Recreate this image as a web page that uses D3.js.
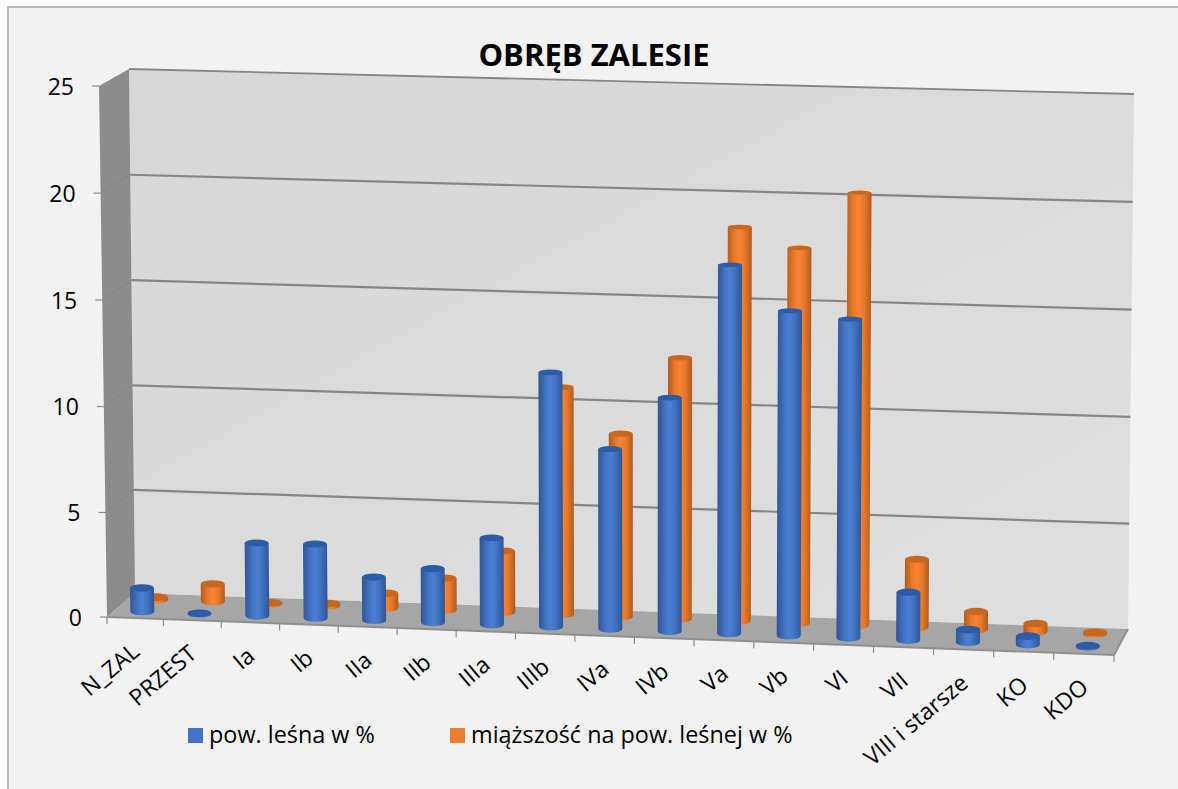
<!DOCTYPE html>
<html><head><meta charset="utf-8">
<script src="https://cdn.jsdelivr.net/npm/d3@7/dist/d3.min.js"></script>
<style>html,body{margin:0;padding:0;background:#fff}svg{display:block}text{font-family:"Open Sans",sans-serif;fill:#000}</style>
</head><body><div id="c"></div>
<script>
const categories=["N_ZAL","PRZEST","Ia","Ib","IIa","IIb","IIIa","IIIb","IVa","IVb","Va","Vb","VI","VII","VIII i starsze","KO","KDO"];
const powLesna=[1.15,0.02,3.5,3.55,2.08,2.58,4.14,12.0,8.5,11.0,17.25,15.2,14.9,2.28,0.62,0.41,0.06];
const miazszosc=[0.12,0.87,0.05,0.12,0.72,1.55,2.95,10.8,8.7,12.35,18.55,17.65,20.3,3.25,0.87,0.4,0.08];
const seriesNames=["pow. leśna w %","miąższość na pow. leśnej w %"];
const valueTicks=[0,5,10,15,20,25];
const title="OBRĘB ZALESIE";

const W=1178,H=789;
const svg=d3.select("#c").append("svg").attr("width",W).attr("height",H);
const defs=svg.append("defs");

const box={
 fbl:[107,617],fbr:[1114,655],ftl:[99,86],ftr:[1121,112],
 bbl:[135,593],bbr:[1128,629],btl:[129,69],btr:[1134,94]
};
const lerp=(a,b,t)=>[a[0]+(b[0]-a[0])*t,a[1]+(b[1]-a[1])*t];
const vScale=d3.scalePow().exponent(1.01).domain([0,25]).range([0,1]);
const uScale=d3.scalePow().exponent(1.017).domain([0,categories.length]).range([0,1]);
function project(u,d,w){
  const fb=lerp(box.fbl,box.fbr,u), ft=lerp(box.ftl,box.ftr,u);
  const bb=lerp(box.bbl,box.bbr,u), bt=lerp(box.btl,box.btr,u);
  return lerp(lerp(fb,bb,d),lerp(ft,bt,d),w);
}
const poly=pts=>"M"+pts.map(p=>p.join(",")).join("L")+"Z";

svg.append("rect").attr("x",8).attr("y",7).attr("width",W+20).attr("height",H+20)
  .attr("fill","#f2f2f2").attr("stroke","#a6a6a6").attr("stroke-width",1.5);

const wg=defs.append("linearGradient").attr("id","wall").attr("x1",0).attr("y1",0).attr("x2",1).attr("y2",1);
wg.append("stop").attr("offset",0).attr("stop-color","#d7d7d7");
wg.append("stop").attr("offset",1).attr("stop-color","#dfdfdf");
svg.append("path").attr("d",poly([box.btl,box.btr,box.bbr,box.bbl])).attr("fill","url(#wall)");
svg.append("path").attr("d",poly([box.ftl,box.btl,box.bbl,box.fbl])).attr("fill","#8c8c8c");
svg.append("path").attr("d",poly([box.fbl,box.bbl,box.bbr,box.fbr])).attr("fill","#a6a6a6");
svg.append("path").attr("d",`M${box.fbl}L${box.fbr}L${box.bbr}`).attr("fill","none").attr("stroke","#8f8f8f").attr("stroke-width",2);

valueTicks.forEach(t=>{
  const w=vScale(t);
  if(t>0) svg.append("path").attr("d",`M${project(0,1,w)}L${project(1,1,w)}`)
     .attr("stroke","#868686").attr("stroke-width",t==25?1.8:2.2).attr("fill","none");
  if(t>0&&t<25) svg.append("path").attr("d",`M${project(0,0,w)}L${project(0,1,w)}`)
     .attr("stroke","#848484").attr("stroke-width",1).attr("fill","none");
  const f=project(0,0,w);
  svg.append("line").attr("x1",f[0]-7).attr("x2",f[0]).attr("y1",f[1]).attr("y2",f[1]).attr("stroke","#8c8c8c").attr("stroke-width",1.2);
  svg.append("text").attr("x",f[0]-25).attr("y",f[1]).attr("dy","0.38em").attr("text-anchor","end")
     .style("font-size","23px").text(t);
});
d3.range(categories.length+1).forEach(i=>{
  const p=project(uScale(i),0,0);
  svg.append("line").attr("x1",p[0]).attr("x2",p[0]).attr("y1",p[1]).attr("y2",p[1]+7).attr("stroke","#8c8c8c").attr("stroke-width",1.2);
});
categories.forEach((c,i)=>{
  const p=project(uScale(i+0.5),0,0);
  svg.append("text").attr("text-anchor","end")
    .attr("transform",`translate(${p[0]+6},${p[1]+36}) rotate(-40)`)
    .style("font-size","23px").text(c);
});

function grad(id,edge,mid,light){
  const g=defs.append("linearGradient").attr("id",id).attr("x1",0).attr("x2",1).attr("y1",0).attr("y2",0);
  [[0,edge],[0.3,mid],[0.5,light],[0.7,mid],[1,edge]].forEach(s=>g.append("stop").attr("offset",s[0]).attr("stop-color",s[1]));
}
grad("gb","#2f5594","#4272c2","#4b7ed2");
grad("go","#b05a1c","#e87a2c","#f98432");

function cylinder(g,i,val,depth,fillId,topCol){
  const u=uScale(i+0.5), b=project(u,depth,0), t=project(u,depth,vScale(val));
  const r=12, ryB=3.8, ryT=3.8-1.7*vScale(val)*1.25;
  const path=`M${b[0]-r},${b[1]}L${t[0]-r},${t[1]}L${t[0]+r},${t[1]}L${b[0]+r},${b[1]}A${r},${ryB} 0 0 1 ${b[0]-r},${b[1]}Z`;
  g.append("path").attr("d",path).attr("fill",`url(#${fillId})`);
  g.append("ellipse").attr("cx",t[0]).attr("cy",t[1]).attr("rx",r).attr("ry",ryT).attr("fill",topCol);
}
const dBlue=0.27,dOrange=0.77;
const gO=svg.append("g"),gB=svg.append("g");
miazszosc.forEach((v,i)=>cylinder(gO,i,v,dOrange,"go","#c8681f"));
powLesna.forEach((v,i)=>cylinder(gB,i,v,dBlue,"gb","#2d5ca6"));

svg.append("text").attr("x",594).attr("y",66).attr("text-anchor","middle")
  .style("font-size","31px").style("font-weight","700").text(title);

[[188,"#4472c4",seriesNames[0]],[450,"#ed7d31",seriesNames[1]]].forEach(l=>{
  svg.append("rect").attr("x",l[0]).attr("y",728).attr("width",15).attr("height",15).attr("fill",l[1]);
  svg.append("text").attr("x",l[0]+21).attr("y",743).style("font-size","23.4px").text(l[2]);
});
</script></body></html>
